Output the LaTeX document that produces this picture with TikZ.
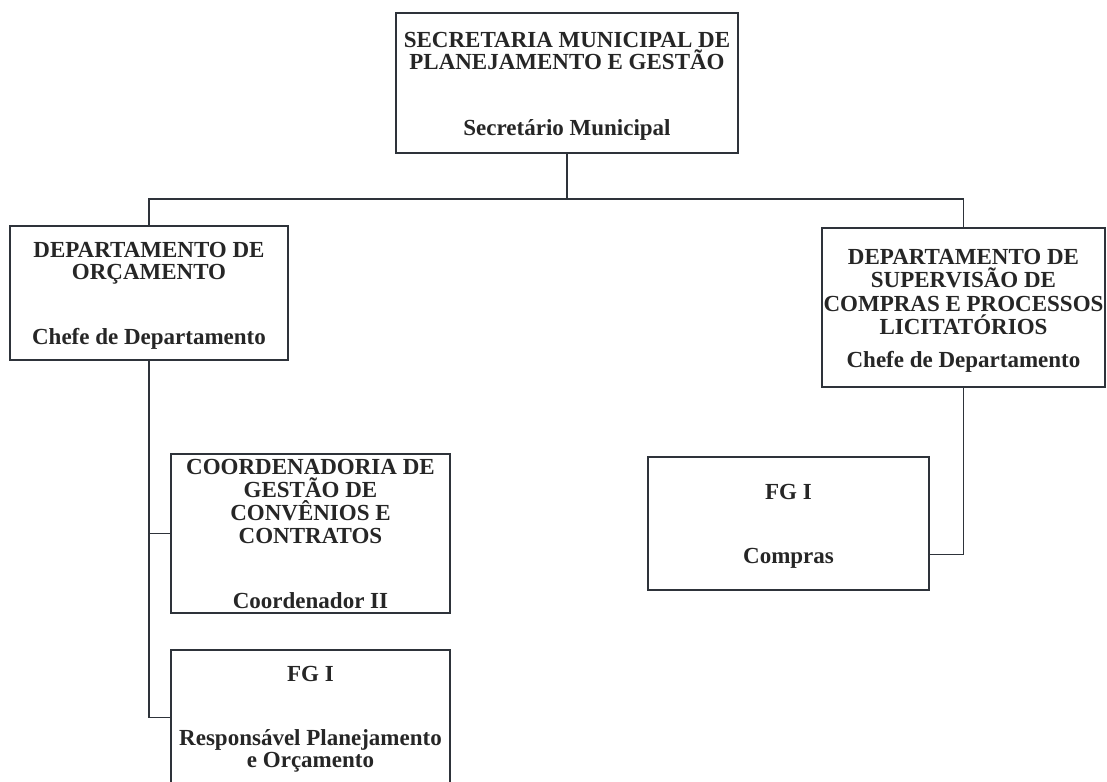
\documentclass[tikz,border=0pt]{standalone}
\usepackage{fontspec}
\setmainfont{Liberation Serif}
\usetikzlibrary{calc}
\definecolor{linec}{HTML}{2E333A}
\definecolor{txtc}{HTML}{262626}
\begin{document}
\begin{tikzpicture}[x=1pt,y=-1pt,
  box/.style={draw=linec, line width=1.8pt, rectangle, inner sep=0pt, outer sep=0pt},
  conn/.style={draw=linec, line width=1.8pt},
  txt/.style={anchor=base, inner sep=0pt, text=txtc, font=\fontsize{23}{22}\selectfont\bfseries}]
\useasboundingbox[fill=white] (0,0) rectangle (1107,781);
% boxes
\node[box, minimum width=342pt, minimum height=140pt] (top) at (567,83) {};
\node[box, minimum width=278pt, minimum height=134pt] (orc) at (149,293) {};
\node[box, minimum width=283pt, minimum height=159pt] (sup) at (963.5,307.5) {};
\node[box, minimum width=279pt, minimum height=159pt] (coord) at (310.5,533.5) {};
\node[box, minimum width=279pt, minimum height=135pt] (fgl) at (310.5,717.5) {};
\node[box, minimum width=281pt, minimum height=133pt] (comp) at (788.5,523.5) {};
% texts
\node[txt] (t1) at (567,47.5) {SECRETARIA MUNICIPAL DE};
\node[txt] (t2) at (567,69.5) {PLANEJAMENTO E GESTÃO};
\node[txt] (t3) at (567,135.5) {Secretário Municipal};
\node[txt] (o1) at (149,257.5) {DEPARTAMENTO DE};
\node[txt] (o2) at (149,279.5) {ORÇAMENTO};
\node[txt] (o3) at (149,344.5) {Chefe de Departamento};
\node[txt] (s1) at (963.5,264.5) {DEPARTAMENTO DE};
\node[txt] (s2) at (963.5,287.5) {SUPERVISÃO DE};
\node[txt] (s3) at (963.5,311.5) {COMPRAS E PROCESSOS};
\node[txt] (s4) at (963.5,334.5) {LICITATÓRIOS};
\node[txt] (s5) at (963.5,367.5) {Chefe de Departamento};
\node[txt] (c1) at (310.5,474) {COORDENADORIA DE};
\node[txt] (c2) at (310.5,497) {GESTÃO DE};
\node[txt] (c3) at (310.5,520) {CONVÊNIOS E};
\node[txt] (c4) at (310.5,543) {CONTRATOS};
\node[txt] (c5) at (310.5,608) {Coordenador II};
\node[txt] (f1) at (310.5,681) {FG I};
\node[txt] (f2) at (310.5,745) {Responsável Planejamento};
\node[txt] (f3) at (310.5,767) {e Orçamento};
\node[txt] (p1) at (788.5,499.5) {FG I};
\node[txt] (p2) at (788.5,563) {Compras};
% connectors
\coordinate (hy) at (0,199);
\coordinate (stub) at ($(comp.east)+(0,31)$);
\draw[conn] (top.south) -- (top.south |- hy);
\draw[conn] (orc.north) -- (orc.north |- hy) -- (sup.north |- hy) -- (sup.north);
\draw[conn] (orc.south) -- (orc.south |- fgl.west) -- (fgl.west);
\draw[conn] (orc.south |- coord.west) -- (coord.west);
\draw[conn] (sup.south) -- (sup.south |- stub) -- (stub);
\end{tikzpicture}
\end{document}
